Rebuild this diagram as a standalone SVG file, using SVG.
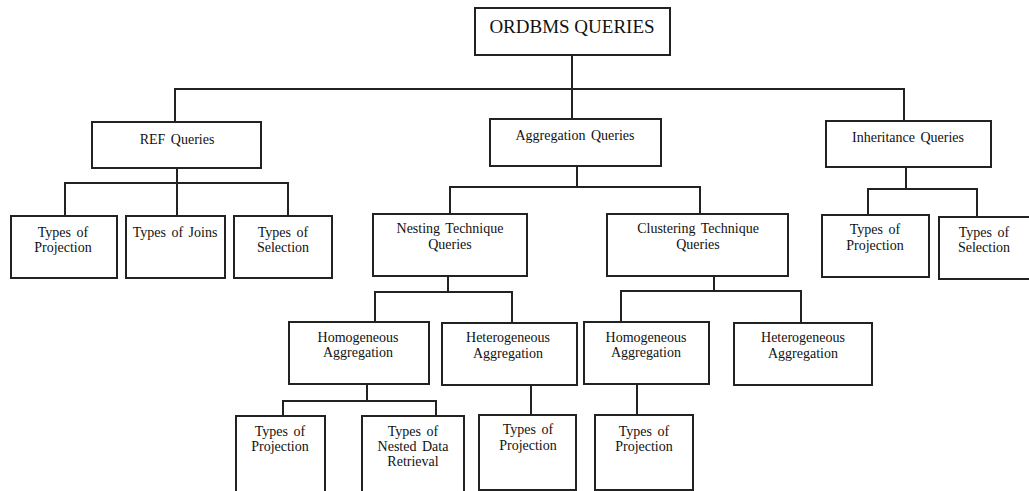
<svg xmlns="http://www.w3.org/2000/svg" width="1029" height="491" viewBox="0 0 1029 491">
<style>
.box{fill:#fff;stroke:#222;stroke-width:2}
.ln{fill:none;stroke:#222;stroke-width:2}
text{font-family:"Liberation Serif","Times New Roman",serif;font-size:14px;fill:#111;text-anchor:middle;word-spacing:2px}
.root{font-size:19px;word-spacing:0}
</style>
<rect width="1029" height="491" fill="#fff"/>
<g id="connectors">
<path class="ln" d="M572 55V119M175 122V89H904V121"/>
<path class="ln" d="M177 168V216M65 216V183H288V216"/>
<path class="ln" d="M577 166V187M450 214V187H700V214"/>
<path class="ln" d="M906 167V189M868 215V189H977V217"/>
<path class="ln" d="M448 276V292M375 322V292H512V323"/>
<path class="ln" d="M714 276V291M621 322V291H801V323"/>
<path class="ln" d="M367 384V401M283 416V401H436V416"/>
<path class="ln" d="M531 385V415"/>
<path class="ln" d="M637 384V415"/>
</g>
<g id="root"><rect class="box" x="475" y="8" width="195" height="47"/><text class="root" x="572" y="33">ORDBMS QUERIES</text></g>
<g id="ref"><rect class="box" x="92" y="122" width="169" height="46"/><text x="177" y="144">REF Queries</text></g>
<g id="agg"><rect class="box" x="490" y="119" width="171" height="47"/><text x="575" y="140">Aggregation Queries</text></g>
<g id="inh"><rect class="box" x="826" y="121" width="165" height="46"/><text x="908" y="142">Inheritance Queries</text></g>
<g id="ref-proj"><rect class="box" x="11" y="216" width="106" height="62"/><text x="63" y="237">Types of</text><text x="63" y="252">Projection</text></g>
<g id="ref-joins"><rect class="box" x="126" y="216" width="99" height="62"/><text x="175" y="237">Types of Joins</text></g>
<g id="ref-sel"><rect class="box" x="234" y="216" width="98" height="62"/><text x="283" y="237">Types of</text><text x="283" y="252">Selection</text></g>
<g id="nesting"><rect class="box" x="373" y="214" width="154" height="62"/><text x="450" y="233">Nesting Technique</text><text x="450" y="249">Queries</text></g>
<g id="clustering"><rect class="box" x="607" y="214" width="181" height="62"/><text x="698" y="233">Clustering Technique</text><text x="698" y="249">Queries</text></g>
<g id="inh-proj"><rect class="box" x="822" y="215" width="107" height="62"/><text x="875" y="234">Types of</text><text x="875" y="250">Projection</text></g>
<g id="inh-sel"><rect class="box" x="939" y="217" width="93" height="62"/><text x="984" y="237">Types of</text><text x="984" y="252">Selection</text></g>
<g id="nest-homo"><rect class="box" x="289" y="322" width="140" height="62"/><text x="358" y="342">Homogeneous</text><text x="358" y="357">Aggregation</text></g>
<g id="nest-hetero"><rect class="box" x="442" y="323" width="135" height="62"/><text x="508" y="342">Heterogeneous</text><text x="508" y="358">Aggregation</text></g>
<g id="clus-homo"><rect class="box" x="584" y="322" width="125" height="62"/><text x="646" y="342">Homogeneous</text><text x="646" y="357">Aggregation</text></g>
<g id="clus-hetero"><rect class="box" x="734" y="323" width="138" height="62"/><text x="803" y="342">Heterogeneous</text><text x="803" y="358">Aggregation</text></g>
<g id="nh-proj"><rect class="box" x="236" y="416" width="89" height="80"/><text x="280" y="436">Types of</text><text x="280" y="451">Projection</text></g>
<g id="nh-nested"><rect class="box" x="362" y="416" width="102" height="80"/><text x="413" y="436">Types of</text><text x="413" y="451">Nested Data</text><text x="413" y="466">Retrieval</text></g>
<g id="nhet-proj"><rect class="box" x="479" y="415" width="97" height="75"/><text x="528" y="434">Types of</text><text x="528" y="450">Projection</text></g>
<g id="ch-proj"><rect class="box" x="595" y="415" width="98" height="75"/><text x="644" y="436">Types of</text><text x="644" y="451">Projection</text></g>
</svg>
